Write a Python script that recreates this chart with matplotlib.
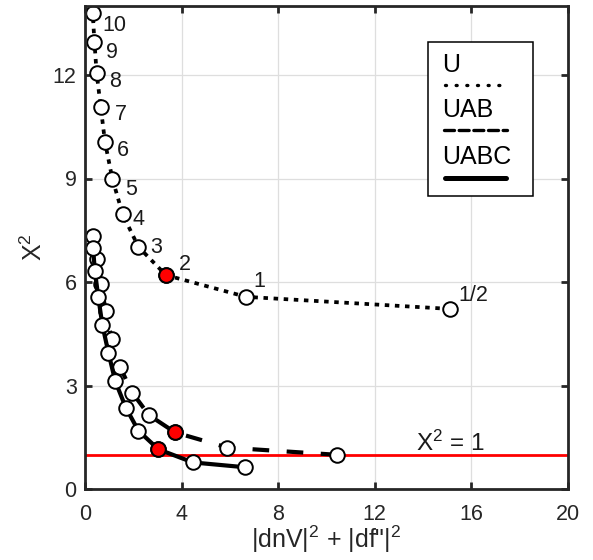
import matplotlib
matplotlib.use("Agg")
import matplotlib.pyplot as plt
from matplotlib.lines import Line2D
from matplotlib.patches import Rectangle

plt.rcParams['font.family'] = ['Liberation Sans', 'DejaVu Sans']
plt.rcParams['mathtext.fontset'] = 'custom'
plt.rcParams['mathtext.rm'] = 'Liberation Sans'
plt.rcParams['mathtext.it'] = 'Liberation Sans'

# Regularisation levels (labels shown on the U curve)
lam_labels = ['1/2', '1', '2', '3', '4', '5', '6', '7', '8', '9', '10']
selected = 2  # index of the highlighted level (lambda = 2)

# U solution: misfit vs. model norm
u_norm = [15.11, 6.67, 3.35, 2.21, 1.56, 1.13, 0.83, 0.65, 0.48, 0.39, 0.32]
u_chi2 = [5.22, 5.57, 6.20, 7.02, 7.96, 9.00, 10.05, 11.08, 12.07, 12.97, 13.79]

# UAB solution
uab_norm = [10.45, 5.90, 3.73, 2.65, 1.96, 1.44, 1.10, 0.86, 0.65, 0.51, 0.33]
uab_chi2 = [0.99, 1.20, 1.64, 2.14, 2.79, 3.55, 4.36, 5.17, 5.93, 6.66, 7.33]

# UABC solution
uabc_norm = [6.63, 4.47, 3.04, 2.21, 1.69, 1.25, 0.97, 0.72, 0.55, 0.41, 0.33]
uabc_chi2 = [0.63, 0.77, 1.15, 1.69, 2.36, 3.13, 3.95, 4.75, 5.56, 6.32, 7.00]

target_chi2 = 1.0

x_ticks = [0, 4, 8, 12, 16, 20]
y_ticks = [0, 3, 6, 9, 12]

# label offsets in pixels (left edge, vertical centre) relative to each point
label_offsets = [(8, 13), (7, 15), (13, 11), (12, -1), (10, -5), (13, -11),
                 (12, -8), (14, -8), (13, -9), (12, -11), (10, -12)]

fig = plt.figure(figsize=(5.93, 5.60), dpi=100)
ax = fig.add_axes([85 / 593, 71 / 560, 483 / 593, 483 / 560])

ax.set_xlim(0, 20)
ax.set_ylim(0, 14)
ax.set_xticks(x_ticks)
ax.set_yticks(y_ticks)
ax.grid(True, color='#dedede', linewidth=0.9, zorder=0)
ax.set_axisbelow(True)

ax.axhline(target_chi2, color='#ff0000', linewidth=2.0, zorder=2)

ms = 10.5
mew = 1.4

def curve(xs, ys, ls_kw, z):
    ax.plot(xs, ys, color='black', zorder=z, solid_capstyle='butt',
            dash_capstyle='butt', **ls_kw)
    ax.plot(xs, ys, linestyle='none', marker='o', markersize=ms,
            markerfacecolor='white', markeredgecolor='black',
            markeredgewidth=mew, zorder=z + 0.5)
    ax.plot([xs[selected]], [ys[selected]], linestyle='none', marker='o',
            markersize=ms, markerfacecolor='#ff0000', markeredgecolor='black',
            markeredgewidth=mew, zorder=z + 0.6)

curve(u_norm, u_chi2, dict(linewidth=2.7, linestyle=(0, (1.2, 1.5))), 3)
curve(uab_norm, uab_chi2, dict(linewidth=3.0, linestyle=(0, (4.0, 4.2))), 4)
curve(uabc_norm, uabc_chi2, dict(linewidth=3.0, linestyle='-'), 5)

for lab, xv, yv, off in zip(lam_labels, u_norm, u_chi2, label_offsets):
    ax.annotate(lab, (xv, yv), xytext=off, textcoords='offset pixels',
                ha='left', va='center', fontsize=15.5, color='#1a1a1a', zorder=7)

ax.text(13.72, 1.1, r'X$^2$ = 1', fontsize=17.5, ha='left', va='baseline',
        color='#1a1a1a', zorder=7)

# legend box drawn by hand: label above each line sample
ax.add_patch(Rectangle((0.710, 0.6066), 0.2175, 0.319, transform=ax.transAxes,
                       facecolor='white', edgecolor='black', linewidth=1.1,
                       zorder=8))
for txt, ty in [('U', 0.878), ('UAB', 0.785), ('UABC', 0.687)]:
    ax.text(0.739, ty, txt, transform=ax.transAxes, fontsize=18,
            ha='left', va='center', color='black', zorder=9)
ax.add_line(Line2D([0.745, 0.865], [0.836, 0.836], transform=ax.transAxes,
                   color='black', linewidth=2.4, linestyle=(0, (0.3, 2.9)),
                   dash_capstyle='round', zorder=9))
ax.add_line(Line2D([0.743, 0.874], [0.743, 0.743], transform=ax.transAxes,
                   color='black', linewidth=2.4, linestyle=(0, (3.0, 1.4)),
                   dash_capstyle='round', zorder=9))
ax.add_line(Line2D([0.745, 0.872], [0.644, 0.644], transform=ax.transAxes,
                   color='black', linewidth=3.6, solid_capstyle='round',
                   zorder=9))

for sp in ax.spines.values():
    sp.set_linewidth(2.0)
    sp.set_color('#262626')
    sp.set_zorder(10)

ax.tick_params(direction='in', length=5, width=2.0, color='#262626',
               top=True, right=True, labelsize=15.5, labelcolor='#262626')
ax.tick_params(axis='x', pad=11)
ax.tick_params(axis='y', pad=6)

ax.set_xlabel(r'|dnV|$^2$ + |df"|$^2$', fontsize=18, color='#262626', labelpad=-1)
ax.set_ylabel(r'X$^2$', fontsize=18, color='#262626', labelpad=4)

fig.savefig('out.png', dpi=100)
